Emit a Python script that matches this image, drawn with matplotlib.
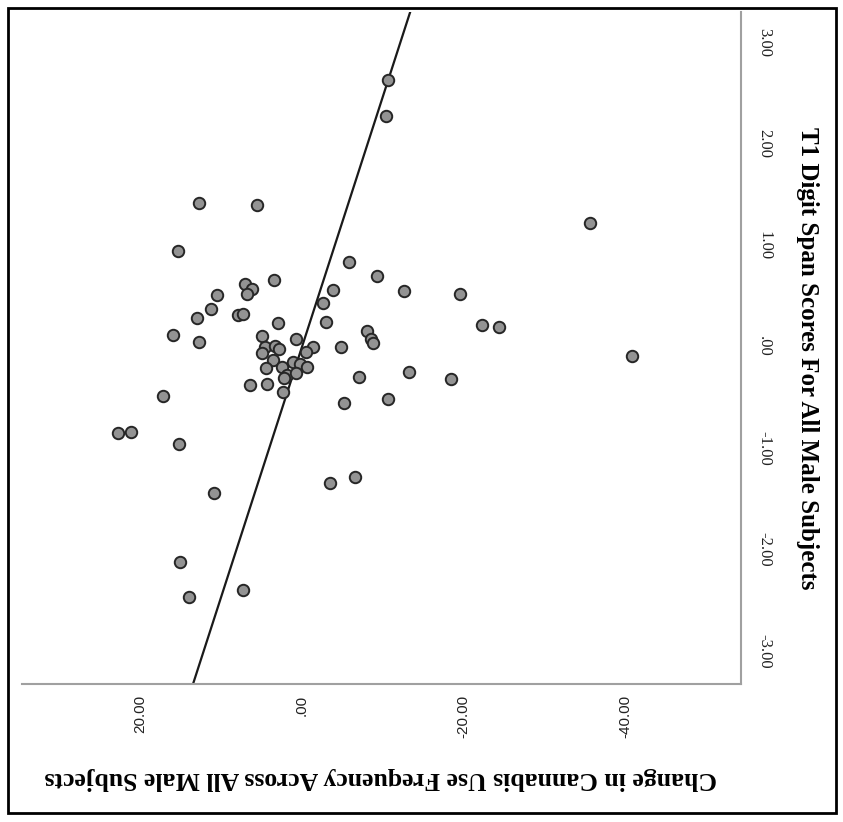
import matplotlib
matplotlib.use("Agg")
import matplotlib.pyplot as plt
from matplotlib.patches import Rectangle

# change in cannabis use frequency (horizontal, reversed) vs T1 digit span score
change = [-10.64, -10.40, -35.64, 12.75, 5.57, 15.35, -5.82, -9.28, 7.05, 3.47,
          6.19, 6.81, 10.52, -3.84, -12.62, -19.55, -2.60, 11.26, 13.00, 7.92,
          7.30, 2.97, -2.97, -22.28, -24.38, -8.04, -8.54, -8.79, 15.97, 4.95,
          12.75, 0.74, -1.36, 4.58, 3.34, 2.85, -4.83, 4.95, -0.50, 3.59,
          1.11, 0.25, 4.46, 2.48, -0.62, 1.86, 0.74, 2.23, 6.44, 4.33,
          -7.05, -13.24, 2.35, -5.20, -10.64, -18.44, -40.84, 17.20, 21.16, 22.77,
          15.22, 10.89, -3.47, -6.56, 15.10, 13.99, 7.30]
digit_span = [2.63, 2.27, 1.22, 1.42, 1.40, 0.94, 0.84, 0.70, 0.62, 0.66,
              0.57, 0.52, 0.51, 0.56, 0.55, 0.52, 0.43, 0.37, 0.28, 0.31,
              0.32, 0.23, 0.24, 0.21, 0.19, 0.16, 0.08, 0.04, 0.12, 0.11,
              0.05, 0.08, 0.00, 0.00, 0.01, -0.02, 0.00, -0.06, -0.05, -0.13,
              -0.15, -0.17, -0.21, -0.20, -0.20, -0.28, -0.26, -0.31, -0.38, -0.37,
              -0.30, -0.25, -0.45, -0.55, -0.52, -0.32, -0.09, -0.49, -0.84, -0.85,
              -0.96, -1.44, -1.34, -1.28, -2.12, -2.47, -2.40]

# fit line
fit_slope = -0.2466
fit_intercept = 0.002

x_ticks = [20, 0, -20, -40]
x_ticklabels = ['20.00', '.00', '-20.00', '-40.00']
y_ticks = [-3, -2, -1, 0, 1, 2, 3]
y_ticklabels = ['-3.00', '-2.00', '-1.00', '.00', '1.00', '2.00', '3.00']

fig = plt.figure(figsize=(8.43, 8.22), dpi=100)
ax = fig.add_axes([22 / 843, 138 / 822, 719 / 843, 672 / 822])

ax.scatter(change, digit_span, s=68, facecolor='#939393', edgecolor='#262626',
           linewidth=1.4, zorder=3)

xlim = (34.65, -54.3)
ax.plot(xlim, [fit_intercept + fit_slope * v for v in xlim], color='#1a1a1a', lw=1.6, zorder=2)
ax.set_xlim(xlim)
ax.set_ylim(-3.325, 3.30)

for s in ['top', 'left']:
    ax.spines[s].set_visible(False)
for s in ['bottom', 'right']:
    ax.spines[s].set_color('#a0a0a0')
    ax.spines[s].set_linewidth(1.5)

ax.yaxis.tick_right()
ax.set_xticks(x_ticks)
ax.set_xticklabels(x_ticklabels, rotation=90, family='Liberation Sans', fontsize=11,
                   color='#222222', va='top', ha='center')
ax.set_yticks(y_ticks)
ax.set_yticklabels(y_ticklabels, rotation=-90, family='Liberation Serif', fontsize=12,
                   color='#222222', va='center', ha='left')
ax.tick_params(axis='x', length=0, pad=8)
ax.tick_params(axis='y', length=0, pad=11)

fig.text(381 / 843, 1 - 778 / 822, 'Change in Cannabis Use Frequency Across All Male Subjects',
         rotation=180, family='Liberation Serif', fontweight='bold', fontsize=18.5,
         ha='center', va='center')
fig.text(808 / 843, 1 - 358 / 822, 'T1 Digit Span Scores For All Male Subjects',
         rotation=-90, family='Liberation Serif', fontweight='bold', fontsize=18,
         ha='center', va='center')

fig.patches.append(Rectangle((8 / 843, 9 / 822), 828 / 843, 805 / 822, transform=fig.transFigure,
                             fill=False, edgecolor='black', lw=2))

fig.savefig('out.png', dpi=100)
